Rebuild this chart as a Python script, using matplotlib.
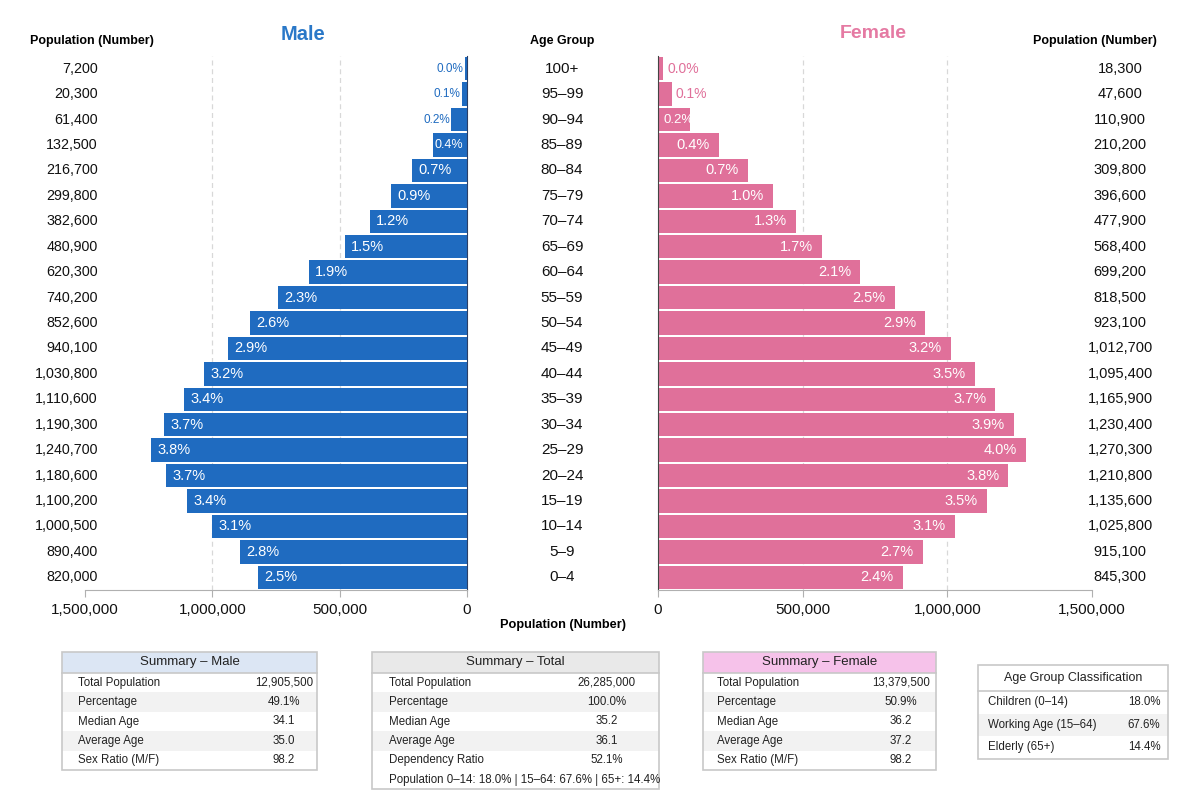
import matplotlib
matplotlib.use('Agg')
import matplotlib.pyplot as plt
from matplotlib.patches import Rectangle
from matplotlib.transforms import blended_transform_factory
import numpy as np

plt.rcParams['font.family'] = ['Liberation Sans', 'DejaVu Sans']

# data, youngest group first
age_groups = ['0–4', '5–9', '10–14', '15–19', '20–24', '25–29', '30–34', '35–39',
              '40–44', '45–49', '50–54', '55–59', '60–64', '65–69', '70–74', '75–79',
              '80–84', '85–89', '90–94', '95–99', '100+']
male_pop = [820000, 890400, 1000500, 1100200, 1180600, 1240700, 1190300, 1110600,
            1030800, 940100, 852600, 740200, 620300, 480900, 382600, 299800,
            216700, 132500, 61400, 20300, 7200]
female_pop = [845300, 915100, 1025800, 1135600, 1210800, 1270300, 1230400, 1165900,
              1095400, 1012700, 923100, 818500, 699200, 568400, 477900, 396600,
              309800, 210200, 110900, 47600, 18300]
male_pct = [2.5, 2.8, 3.1, 3.4, 3.7, 3.8, 3.7, 3.4, 3.2, 2.9, 2.6, 2.3, 1.9, 1.5,
            1.2, 0.9, 0.7, 0.4, 0.2, 0.1, 0.0]
female_pct = [2.4, 2.7, 3.1, 3.5, 3.8, 4.0, 3.9, 3.7, 3.5, 3.2, 2.9, 2.5, 2.1, 1.7,
              1.3, 1.0, 0.7, 0.4, 0.2, 0.1, 0.0]
x_ticks = [0, 500000, 1000000, 1500000]

male_summary = [('Total Population', '12,905,500'), ('Percentage', '49.1%'),
                ('Median Age', '34.1'), ('Average Age', '35.0'), ('Sex Ratio (M/F)', '98.2')]
total_summary = [('Total Population', '26,285,000'), ('Percentage', '100.0%'),
                 ('Median Age', '35.2'), ('Average Age', '36.1'), ('Dependency Ratio', '52.1%')]
total_note = 'Population 0–14: 18.0% | 15–64: 67.6% | 65+: 14.4%'
female_summary = [('Total Population', '13,379,500'), ('Percentage', '50.9%'),
                  ('Median Age', '36.2'), ('Average Age', '37.2'), ('Sex Ratio (M/F)', '98.2')]
age_class = [('Children (0–14)', '18.0%'), ('Working Age (15–64)', '67.6%'),
             ('Elderly (65+)', '14.4%')]

MALE = '#1f6bc0'
FEMALE = '#e0709a'
W, H = 1200, 800

fig = plt.figure(figsize=(12, 8), dpi=100)


def px_rect(x0, x1, y0, y1):
    return [x0 / W, 1 - y1 / H, (x1 - x0) / W, (y1 - y0) / H]


def fig_text(x, y, s, **kw):
    fig.text(x / W, 1 - y / H, s, **kw)


ax_m = fig.add_axes(px_rect(85, 467, 56, 590))
ax_f = fig.add_axes(px_rect(658, 1092, 56, 590))
y = np.arange(len(age_groups))

for ax, pop, col in [(ax_m, male_pop, MALE), (ax_f, female_pop, FEMALE)]:
    ax.barh(y, pop, height=0.92, color=col, zorder=2)
    ax.set_ylim(-0.5, len(y) - 0.5)
    ax.set_xlim(0, 1500000)
    ax.set_yticks([])
    ax.set_xticks(x_ticks)
    ax.set_xticklabels([f'{t:,}' for t in x_ticks])
    ax.tick_params(axis='x', labelsize=11, color='#b0b0b0', labelcolor='#111111',
                   length=5, pad=4)
    for s in ['top', 'left', 'right']:
        ax.spines[s].set_visible(False)
    ax.spines['bottom'].set_color('#b0b0b0')
    for t in x_ticks[1:-1]:
        ax.axvline(t, color='#d8d8d8', lw=0.9, ls=(0, (4, 3)), zorder=0)

ax_m.invert_xaxis()
ax_m.spines['right'].set_visible(True)
ax_m.spines['right'].set_color('#2b3f66')
ax_f.spines['left'].set_visible(True)
ax_f.spines['left'].set_color('#444444')

# percentage labels
for yi, p, pct in zip(y, male_pop, male_pct):
    lab = f'{pct:.1f}%'
    if p < 100000:
        ax_m.annotate(lab, (p, yi), xytext=(-1, 0), textcoords='offset points',
                      ha='right', va='center', fontsize=8.5, color=MALE, zorder=3)
    elif p < 150000:
        ax_m.annotate(lab, (0, yi), xytext=(-3, 0), textcoords='offset points',
                      ha='right', va='center', fontsize=9, color='white', zorder=3)
    else:
        ax_m.annotate(lab, (p, yi), xytext=(4.5, 0), textcoords='offset points',
                      ha='left', va='center', fontsize=10.5, color='white', zorder=3)

for yi, p, pct in zip(y, female_pop, female_pct):
    lab = f'{pct:.1f}%'
    if p < 80000:
        ax_f.annotate(lab, (p, yi), xytext=(3, 0), textcoords='offset points',
                      ha='left', va='center', fontsize=10, color=FEMALE, zorder=3)
    elif p < 150000:
        ax_f.annotate(lab, (0, yi), xytext=(4, 0), textcoords='offset points',
                      ha='left', va='center', fontsize=9.5, color='white', zorder=3)
    else:
        ax_f.annotate(lab, (p, yi), xytext=(-6.5, 0), textcoords='offset points',
                      ha='right', va='center', fontsize=10.5, color='white', zorder=3)

# population numbers and age labels
tm = blended_transform_factory(ax_m.transAxes, ax_m.transData)
tf = blended_transform_factory(ax_f.transAxes, ax_f.transData)
ta = blended_transform_factory(fig.transFigure, ax_m.transData)
for yi, pm, pf, ag in zip(y, male_pop, female_pop, age_groups):
    ax_m.text(0.034, yi, f'{pm:,}', transform=tm, ha='right', va='center',
              fontsize=10.3, color='#111111')
    ax_f.text(1.065, yi, f'{pf:,}', transform=tf, ha='center', va='center',
              fontsize=10.5, color='#111111')
    ax_m.text(562 / W, yi, ag, transform=ta, ha='center', va='center',
              fontsize=11, color='#111111')

# headers
fig_text(303, 34, 'Male', ha='center', va='center', fontsize=14.5, fontweight='bold', color='#2a78c8')
fig_text(873, 34, 'Female', ha='center', va='center', fontsize=14, fontweight='bold', color='#e57aa3')
fig_text(92, 41, 'Population (Number)', ha='center', va='center', fontsize=9, fontweight='bold')
fig_text(562, 41, 'Age Group', ha='center', va='center', fontsize=9, fontweight='bold')
fig_text(1095, 41, 'Population (Number)', ha='center', va='center', fontsize=9, fontweight='bold')
fig_text(563, 625, 'Population (Number)', ha='center', va='center', fontsize=9.2, fontweight='bold')

# summary tables
ov = fig.add_axes([0, 0, 1, 1])
ov.set_xlim(0, W)
ov.set_ylim(H, 0)
ov.axis('off')


def draw_table(x0, x1, y0, title, title_bg, rows, lx, vx, note=None,
               head_h=21, row_h=19.4, title_size=9.5):
    n = len(rows) + (1 if note else 0)
    ov.add_patch(Rectangle((x0, y0), x1 - x0, head_h, facecolor=title_bg, edgecolor='none'))
    ov.text((x0 + x1) / 2, y0 + head_h / 2, title, ha='center', va='center',
            fontsize=title_size, color='#222222')
    for i, (lab, val) in enumerate(rows):
        ry = y0 + head_h + i * row_h
        if i % 2 == 1:
            ov.add_patch(Rectangle((x0, ry), x1 - x0, row_h, facecolor='#f2f2f2', edgecolor='none'))
        ov.text(lx, ry + row_h / 2, lab, ha='left', va='center', fontsize=8.3, color='#222222')
        ov.text(vx, ry + row_h / 2, val, ha='center', va='center', fontsize=8.3, color='#222222')
    if note:
        ry = y0 + head_h + len(rows) * row_h
        ov.text(lx, ry + row_h / 2, note, ha='left', va='center', fontsize=8.3, color='#222222')
    ov.plot([x0, x1], [y0 + head_h, y0 + head_h], color='#c8c8c8', lw=1.2)
    ov.add_patch(Rectangle((x0, y0), x1 - x0, head_h + n * row_h, facecolor='none',
                           edgecolor='#c8c8c8', lw=1.2))


draw_table(62, 317, 652, 'Summary – Male', '#dce6f4', male_summary, 78, 284)
draw_table(372, 659, 652, 'Summary – Total', '#e9e9e9', total_summary, 389, 607, note=total_note)
draw_table(703, 936, 652, 'Summary – Female', '#f6c2ea', female_summary, 717, 901)
draw_table(978, 1168, 665, 'Age Group Classification', 'white', age_class, 988, 1144,
           head_h=26, row_h=22.5, title_size=9)

fig.savefig('out.png', dpi=100)
